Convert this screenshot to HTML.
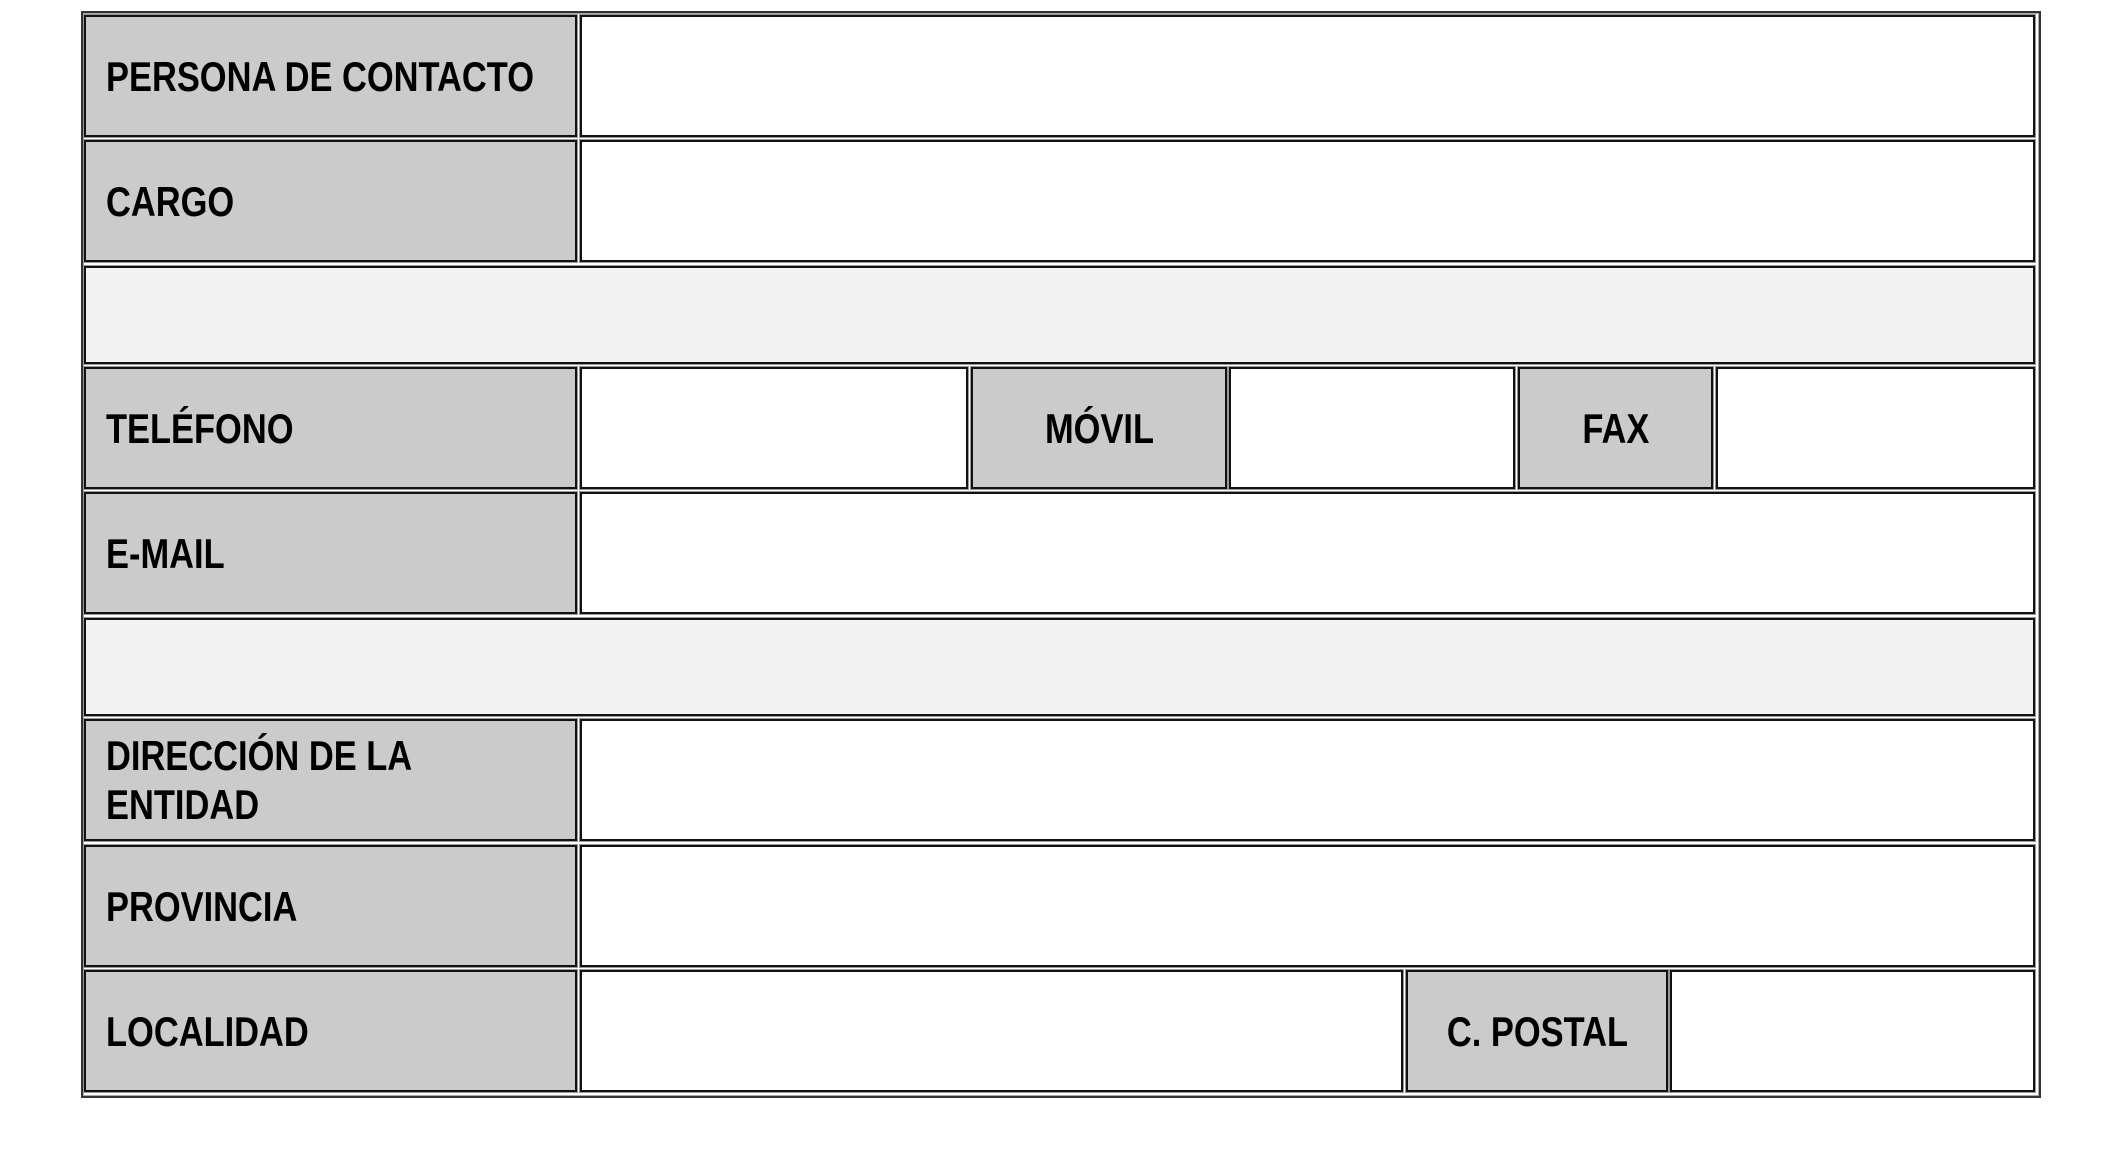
<!DOCTYPE html>
<html><head><meta charset="utf-8"><style>
body{margin:0;width:2126px;height:1152px;background:#fff;position:relative;overflow:hidden}
.o{position:absolute;left:81px;top:11px;width:1956px;height:1083px;border:2px solid #333;box-shadow:inset 0 0 0 1px #aaa}
.c{position:absolute;box-sizing:border-box;border:2px solid #111;box-shadow:0 0 0 1px #999;display:flex;align-items:center;
font-family:"Liberation Sans Narrow","Liberation Sans",sans-serif;font-weight:bold;font-size:42px;color:#000;line-height:49px;white-space:nowrap}
.c span{display:inline-block;transform:scaleX(0.82);transform-origin:left center}
.ct span{transform-origin:center center}
.g{background:#cbcbcb;padding-left:20px}
.w{background:#fff}
.s{background:#f2f2f2}
.ct{justify-content:center;padding-left:0}
</style></head><body>
<div class="o"></div>
<div class="c g" style="left:84px;top:15px;width:493px;height:122px"><span>PERSONA DE CONTACTO</span></div>
<div class="c w" style="left:580px;top:15px;width:1455px;height:122px"></div>
<div class="c g" style="left:84px;top:140px;width:493px;height:122px"><span>CARGO</span></div>
<div class="c w" style="left:580px;top:140px;width:1455px;height:122px"></div>
<div class="c s" style="left:84px;top:266px;width:1951px;height:98px"></div>
<div class="c g" style="left:84px;top:367px;width:493px;height:122px"><span>TELÉFONO</span></div>
<div class="c w" style="left:580px;top:367px;width:388px;height:122px"></div>
<div class="c g ct" style="left:971px;top:367px;width:256px;height:122px"><span>MÓVIL</span></div>
<div class="c w" style="left:1229px;top:367px;width:286px;height:122px"></div>
<div class="c g ct" style="left:1518px;top:367px;width:195px;height:122px"><span>FAX</span></div>
<div class="c w" style="left:1716px;top:367px;width:319px;height:122px"></div>
<div class="c g" style="left:84px;top:492px;width:493px;height:122px"><span>E-MAIL</span></div>
<div class="c w" style="left:580px;top:492px;width:1455px;height:122px"></div>
<div class="c s" style="left:84px;top:618px;width:1951px;height:98px"></div>
<div class="c g" style="left:84px;top:719px;width:493px;height:122px"><span>DIRECCIÓN DE LA<br>ENTIDAD</span></div>
<div class="c w" style="left:580px;top:719px;width:1455px;height:122px"></div>
<div class="c g" style="left:84px;top:845px;width:493px;height:122px"><span>PROVINCIA</span></div>
<div class="c w" style="left:580px;top:845px;width:1455px;height:122px"></div>
<div class="c g" style="left:84px;top:970px;width:493px;height:122px"><span>LOCALIDAD</span></div>
<div class="c w" style="left:580px;top:970px;width:823px;height:122px"></div>
<div class="c g ct" style="left:1406px;top:970px;width:262px;height:122px"><span>C. POSTAL</span></div>
<div class="c w" style="left:1670px;top:970px;width:365px;height:122px"></div>
</body></html>
